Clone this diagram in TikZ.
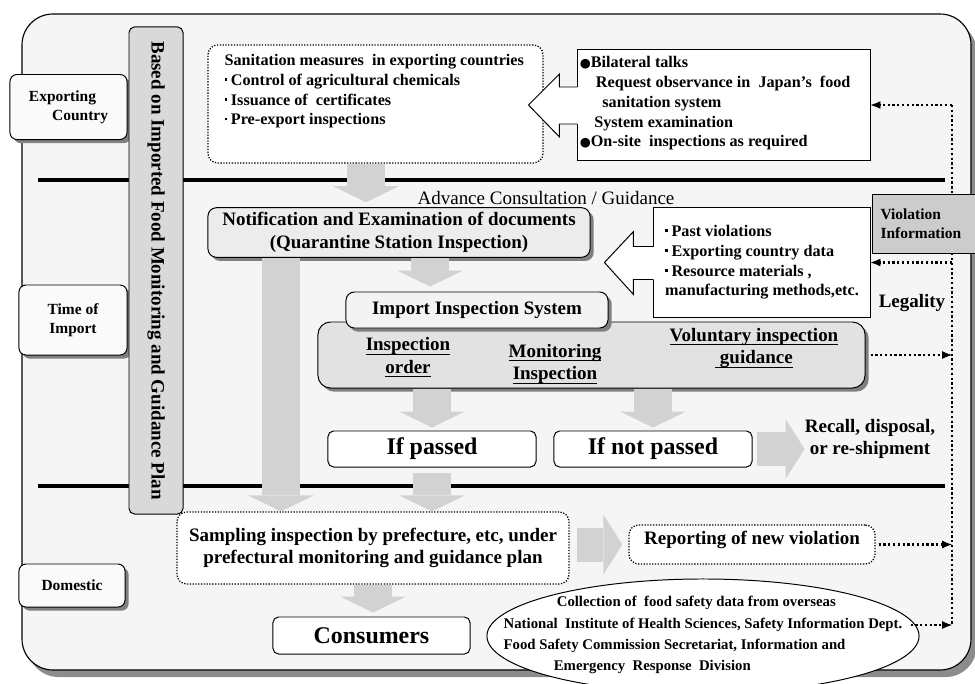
\documentclass[tikz,border=0pt]{standalone}
\usepackage{fontspec}
\setmainfont{Liberation Serif}
\newfontfamily\dejavu{DejaVu Sans}
\usepackage{tikz}
\usetikzlibrary{
  arrows.meta,
  calc,
  positioning,
  shapes.geometric,
  shadows
}
\definecolor{paneback}{RGB}{245,245,245}
\definecolor{blockarrow}{RGB}{210,210,210}
\definecolor{bannergray}{RGB}{217,217,217}
\definecolor{notifgray}{RGB}{236,236,236}
\definecolor{tabgray}{RGB}{243,243,243}
\definecolor{inspgray}{RGB}{226,226,226}
\definecolor{violgray}{RGB}{204,204,204}
\definecolor{labelwhite}{RGB}{250,250,250}
\newcommand{\bigdot}{{\dejavu\fontsize{9}{9}\selectfont ●}}
\newcommand{\smalldot}{\raisebox{0.28em}{\rule{2pt}{2pt}}\hspace{2.5pt}}
\newcommand{\ulfix}[1]{\setbox0\hbox{#1}\rlap{\rule[-2.8pt]{\wd0}{0.7pt}}\box0}

\begin{document}
\begin{tikzpicture}[
  x=0.025cm, y=-0.025cm,
  boxshadow/.style={drop shadow={shadow xshift=2.6pt, shadow yshift=-2.6pt,
                    fill=black!50, opacity=1}},
  zone/.style={draw, line width=0.7pt, rounded corners=5pt, fill=labelwhite,
               boxshadow, align=center, font=\fontsize{11}{13.5}\selectfont\bfseries},
  banner/.style={draw, line width=0.7pt, rounded corners=4pt, fill=bannergray,
                 font=\fontsize{13.5}{16}\selectfont\bfseries},
  dotbox/.style={draw, fill=white, rounded corners=7pt, line width=0.9pt,
                 dash pattern=on 0.9pt off 1.1pt},
  callbox/.style={draw, fill=white, line width=0.7pt},
  list/.style={align=left, inner sep=0pt, font=\fontsize{11.5}{14}\selectfont\bfseries},
  mainbox/.style={draw, line width=0.7pt, rounded corners=6pt, boxshadow,
                  align=center, font=\fontsize{13.5}{16.2}\selectfont\bfseries},
  choice/.style={align=center, inner sep=0pt, font=\fontsize{13.5}{16}\selectfont\bfseries},
  result/.style={draw, fill=white, line width=0.7pt, rounded corners=4pt,
                 font=\fontsize{17}{20}\selectfont\bfseries},
  bigarr/.style={draw=blockarrow, line width=0.95cm,
                 -{Triangle[length=0.4cm, width=1.65cm, line width=0pt]}},
  sidearr/.style={draw=blockarrow, line width=0.85cm,
                  -{Triangle[length=0.475cm, width=1.5cm, line width=0pt]}},
  dotline/.style={line width=1.6pt, dash pattern=on 1.6pt off 1.8pt},
  dotarr/.style={dotline, -{Latex[length=7pt, width=5.5pt, line width=0.5pt]}}
]
\useasboundingbox (0,0) rectangle (975,684);
\clip (0,0) rectangle (975,684);

% Frame and zones
\draw[line width=0.8pt, fill=paneback, rounded corners=22pt,
      drop shadow={shadow xshift=4pt, shadow yshift=-5pt, fill=black!45, opacity=1}]
      (22,14) rectangle (971,670);
\draw[line width=2.2pt] (38,180) -- (945,180);
\draw[line width=2.2pt] (38,486) -- (945,486);

\node[zone, minimum width=2.925cm, minimum height=1.625cm, align=left] (exporting) at (68.5,107) {Exporting\\\hspace*{1.5em}Country};
\node[zone, minimum width=2.7cm, minimum height=1.75cm] (importtime) at (73,320) {Time of\\Import};
\node[zone, minimum width=2.65cm, minimum height=1.075cm] (domestic) at (72,585.5) {Domestic};
\node[banner, rotate=-90, minimum width=12.175cm, minimum height=1.35cm] (plan) at (156,270.5) {Based on Imported Food Monitoring and Guidance Plan};

% Exporting country
\node[dotbox, minimum width=8.375cm, minimum height=2.95cm] (sanit) at (375.5,104) {};
\node[list, below right=0.25cm and 0.425cm of sanit.north west] (sanitlist) {Sanitation measures\ \ in exporting countries\\
  \smalldot Control of agricultural chemicals\\
  \smalldot Issuance of\ \ certificates\\
  \smalldot Pre-export inspections};

\node[callbox, minimum width=7.3cm, minimum height=2.75cm] (bilat) at (724,105) {};
\fill[white] ($(bilat.west)+(1,-18)$) -- ++(-19,0) -- ++(0,-13) -- ++(-31,31) -- ++(31,32) -- ++(0,-13) -- ++(19,0) -- cycle;
\draw[line width=0.7pt] ($(bilat.west)+(0,-18)$) -- ++(-18,0) -- ++(0,-13) -- ++(-31,31) -- ++(31,32) -- ++(0,-13) -- ++(18,0);
\node[list, below right=0.175cm and 0.05cm of bilat.north west] (bilatlist) {\bigdot Bilateral talks\\
  \hspace*{1em}Request observance in\ \ Japan’s\ \ food\\
  \hspace*{1.4em}sanitation system\\
  \hspace*{0.9em}System examination\\
  \bigdot On-site\ \ inspections as required};

% Time of import
\node[mainbox, fill=notifgray, minimum width=9.55cm, minimum height=1.225cm] (notif) at (399,232.5) {Notification and Examination of documents\\(Quarantine Station Inspection)};
\node[font=\fontsize{13.5}{16}\selectfont] (advance) at (546,198) {Advance Consultation / Guidance};

\node[callbox, list, inner sep=0pt, minimum width=5.4cm, minimum height=2.725cm] (pastv) at (762,262.5) {\smalldot Past violations\\
  \smalldot Exporting country data\\
  \smalldot Resource materials ,\\
  manufacturing methods,etc.};
\fill[white] ($(pastv.west)+(1,-16)$) -- ++(-21,0) -- ++(0,-15) -- ++(-29,31) -- ++(29,32) -- ++(0,-15) -- ++(21,0) -- cycle;
\draw[line width=0.7pt] ($(pastv.west)+(0,-16)$) -- ++(-20,0) -- ++(0,-15) -- ++(-29,31) -- ++(29,32) -- ++(0,-15) -- ++(20,0);

\node[mainbox, fill=inspgray, rounded corners=9pt, minimum width=13.675cm, minimum height=1.65cm] (inspsys) at (591.5,355) {};
\node[mainbox, fill=tabgray, minimum width=6.55cm, minimum height=0.9cm] (tab) at (477,310) {Import Inspection System};
\node[choice] (order) at (408,357.5) {\ulfix{Inspection}\\\ulfix{order}};
\node[choice] (monitor) at (555,364) {\ulfix{Monitoring}\\\ulfix{Inspection}};
\node[choice] (voluntary) at (754,348) {\ulfix{Voluntary inspection}\\\ulfix{\ guidance}};

\node[result, minimum width=5.2cm, minimum height=0.9cm] (passed) at (432,449) {If passed};
\node[result, minimum width=4.95cm, minimum height=0.9cm] (notpassed) at (653,449) {If not passed};
\node[choice] (recall) at (870,439) {Recall, disposal,\\or re-shipment};

% Domestic
\node[dotbox, minimum width=9.8cm, minimum height=1.8cm, align=center,
      font=\fontsize{13.5}{15.5}\selectfont\bfseries] (sampling) at (373,548) {Sampling inspection by prefecture, etc, under\\prefectural monitoring and guidance plan};
\node[dotbox, minimum width=6.15cm, minimum height=0.975cm, text depth=0.34cm,
      font=\fontsize{13.5}{16}\selectfont\bfseries] (report) at (752,544.5) {Reporting of new violation};
\node[result, minimum width=4.925cm, minimum height=0.925cm] (consumers) at (371.5,635.5) {Consumers};
\node[ellipse, draw, fill=white, line width=0.7pt, minimum width=10.8cm, minimum height=2.85cm] (overseas) at (703,636) {};
\node[align=left, inner sep=0pt, font=\fontsize{10.5}{15}\selectfont\bfseries] (overseastext) at (703,635) {\hspace*{3.6em}Collection of\ \ food safety data from overseas\\
  National\ \ Institute of Health Sciences, Safety Information Dept.\\
  Food Safety Commission Secretariat, Information and\\
  \hspace*{3.4em}Emergency\ \ Response\ \ Division};

% Block arrows
\draw[bigarr, shorten >=0.125cm] ($(sanit.south)+(-9.5,0)$) -- ($(sanit.south |- notif.north)+(-9.5,0)$);
\draw[bigarr, shorten >=0.125cm] ($(notif.south)+(31,0)$) -- ($(notif.south |- tab.north)+(31,0)$);
\draw[bigarr] ($(notif.south)+(-118,0)$) -- ($(notif.south |- sampling.north)+(-118,0)$);
\draw[bigarr, shorten >=0.075cm] (inspsys.south -| passed.north) -- (passed.north);
\draw[bigarr, shorten >=0.075cm] (inspsys.south -| notpassed.north) -- (notpassed.north);
\draw[bigarr, shorten <=0.125cm] (passed.south) -- (passed.south |- sampling.north);
\draw[sidearr, shorten <=0.1cm] (notpassed.east) -- (notpassed.east -| recall.west);
\draw[sidearr, shorten <=0.175cm, shorten >=0.15cm] (sampling.east |- report.west) -- (report.west);
\draw[bigarr, shorten >=0.1cm] (sampling.south) -- (sampling.south |- consumers.north);

% Violation information loop
\coordinate (vtop) at (952,105);
\coordinate (vbot) at (952,625);
\draw[dotline] (vtop) -- (vbot);
\draw[dotarr] (vtop) -- (bilat.east);
\draw[dotarr] (vtop |- pastv.east) -- (pastv.east);
\draw[dotarr, shorten <=0.125cm] (inspsys.east) -- (inspsys.east -| vtop);
\draw[dotarr, shorten <=0.075cm] (report.east) -- (report.east -| vtop);
\draw[dotarr] ($(vbot -| overseas.east)+(-9,0)$) -- (vbot);

\node[draw, line width=0.7pt, fill=violgray, anchor=west, text width=2.5cm, inner xsep=0.2cm,
      minimum height=1.475cm, align=left, font=\fontsize{11}{13.5}\selectfont\bfseries] (violinfo) at (872,223.5) {Violation\\Information};
\node[font=\fontsize{13.5}{16}\selectfont\bfseries] (legality) at (912,303) {Legality};

\end{tikzpicture}
\end{document}
